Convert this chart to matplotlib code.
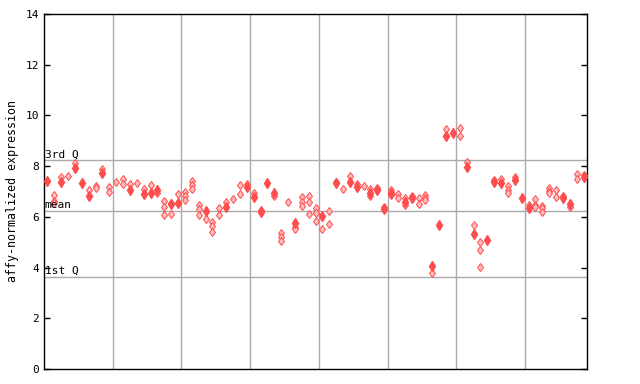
import matplotlib
matplotlib.use("Agg")
import matplotlib.pyplot as plt

# one entry per sample: filled marker value (None if absent) and hollow replicate values
filled = [7.43, None, 7.37, None, 7.94, 7.35, 6.83, None, 7.74, None,
          None, None, 7.06, None, 6.91, 6.95, 7.06, None, 6.51, 6.53,
          None, None, None, 6.23, None, None, 6.39, None, None, 7.16,
          6.79, 6.19, 7.35, 6.96, None, None, 5.77, None, None, None,
          6.03, None, 7.32, None, 7.39, 7.19, None, 6.95, 7.04, 6.30,
          6.95, None, 6.60, 6.73, None, None, 4.07, 5.68, 9.20, 9.29,
          None, 7.98, 5.32, None, 5.10, 7.37, 7.32, None, 7.44, 6.73,
          6.33, None, None, None, None, 6.73, 6.51, None, 7.56]
hollow = [[], [6.86, 6.64, 6.56], [7.58], [7.62], [8.14], [], [7.06], [7.22, 7.12], [7.89], [7.16, 6.99],
          [7.37], [7.48, 7.31], [7.30], [7.35], [7.10], [7.26], [6.93], [6.61, 6.37, 6.07], [6.56, 6.10], [6.90],
          [6.99, 6.83, 6.66], [7.40, 7.24, 7.09], [6.47, 6.30, 6.06], [5.90], [5.81, 5.64, 5.40], [6.33, 6.07], [6.57], [6.69], [7.26, 6.90], [7.29],
          [6.93], [6.28], [], [6.82], [5.35, 5.19, 5.03], [6.60], [5.61, 5.51], [6.77, 6.60, 6.43], [6.82, 6.57, 6.10], [6.33, 6.14, 5.82],
          [5.51], [6.23, 5.72], [7.37], [7.08], [7.61], [7.28], [7.22], [7.08, 6.82], [7.13], [6.40],
          [7.06, 6.85], [6.92, 6.73], [6.73, 6.47], [6.82], [6.73, 6.49], [6.88, 6.76, 6.66], [3.77], [], [9.45], [],
          [9.49, 9.17], [8.15], [5.67], [4.99, 4.68, 4.02], [], [7.45], [7.48], [7.22, 7.06, 6.93], [7.56], [],
          [6.45], [6.69, 6.45, 6.37], [6.44, 6.33, 6.20], [7.12, 7.03, 6.93], [7.06, 6.77], [6.82], [6.40], [7.69, 7.48], [7.65]]
q3, mean_v, q1 = 8.24, 6.23, 3.63

red = '#ff4c4c'
mono = 'DejaVu Sans Mono'

fig = plt.figure(figsize=(6.4, 3.84), dpi=100)
ax = fig.add_axes([44/640, 1-369/384, 543/640, 355/384])
n = len(filled)
ax.set_xlim(-0.5, n - 0.5)
ax.set_ylim(0, 14)

for g in range(10, n, 10):
    ax.axvline(g - 0.5, color='#aaaaaa', lw=1, zorder=1)
for v in (q3, mean_v, q1):
    ax.axhline(v, color='#aaaaaa', lw=1, zorder=1)

hx = [i for i, vals in enumerate(hollow) for _ in vals]
hy = [v for vals in hollow for v in vals]
ax.plot(hx, hy, 'd', ms=4.5, mfc='#ffbcbc', mec=red, mew=0.7, ls='none', zorder=3)
fx = [i for i, v in enumerate(filled) if v is not None]
fy = [v for v in filled if v is not None]
ax.plot(fx, fy, 'd', ms=5, color=red, ls='none', zorder=4)

for v, s in ((q3, '3rd Q'), (mean_v, 'mean'), (q1, '1st Q')):
    ax.text(-0.4, v + 0.03, s, family=mono, fontsize=8, va='bottom', ha='left', zorder=5)

ax.set_xticks([])
ax.set_yticks(range(0, 15, 2))
ax.tick_params(axis='y', direction='in', length=4, width=1, right=True, labelsize=8)
for lab in ax.get_yticklabels():
    lab.set_family(mono)
ax.set_ylabel('affy-normalized expression', family=mono, fontsize=8.4, labelpad=5)
for sp in ax.spines.values():
    sp.set_linewidth(1)

fig.savefig('out.png', dpi=100)
